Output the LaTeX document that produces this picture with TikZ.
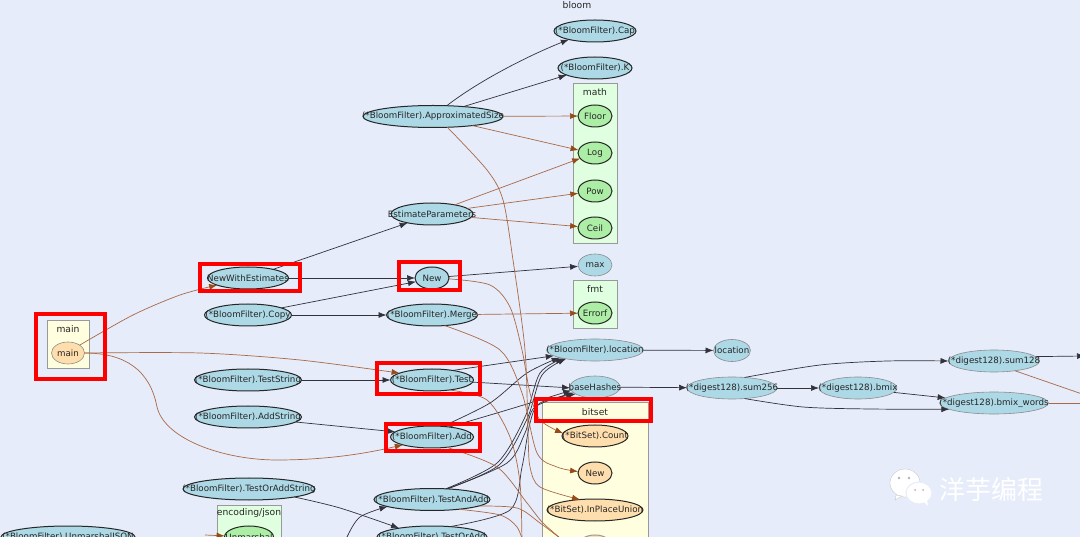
\documentclass[tikz,border=0pt]{standalone}
\usepackage{fontspec}
\setmainfont{DejaVu Sans}
\newfontfamily\cjkfont{Noto Sans CJK SC}
\usetikzlibrary{shapes.geometric,arrows.meta,positioning}
\definecolor{pagebg}{RGB}{230, 236, 250}
\definecolor{fnblue}{RGB}{173, 216, 230}
\definecolor{fngreen}{RGB}{172, 238, 165}
\definecolor{fnorange}{RGB}{255, 222, 173}
\definecolor{boxgreen}{RGB}{224, 255, 224}
\definecolor{boxyellow}{RGB}{255, 255, 224}
\definecolor{callblack}{RGB}{50, 50, 60}
\definecolor{callbrown}{RGB}{170, 105, 70}
\definecolor{tipbrown}{RGB}{150, 75, 25}

\begin{document}
\begin{tikzpicture}[
    x=1pt, y=-1pt,
    fn/.style={ellipse, draw=black!45, fill=fnblue, line width=0.6pt, inner sep=0pt, outer sep=0pt, minimum height=22pt, font=\fontsize{8.7}{10}\selectfont, text=black!85},
    fnb/.style={fn, draw=black!85, line width=1pt},
    fngr/.style={fnb, fill=fngreen},
    fnor/.style={fnb, fill=fnorange},
    pkg/.style={rectangle, draw=black!40, line width=1pt, inner sep=0pt, outer sep=0pt},
    title/.style={inner sep=0pt, font=\fontsize{9.2}{11}\selectfont, text=black!85},
    hilite/.style={draw=red, line width=4pt},
    call/.style={-{Latex[length=8pt,width=6pt]}, callblack, line width=0.7pt},
    ext/.style={-{Latex[length=8pt,width=6pt,color=tipbrown]}, callbrown, line width=0.7pt}
]
    \useasboundingbox (0,0) rectangle (1080,537);
    \clip (0,0) rectangle (1080,537);
    \fill[pagebg] (0,0) rectangle (1080,537);

    % package boxes
    \node[pkg, fill=boxgreen, minimum width=44pt, minimum height=160pt] (mathbox) at (595,164) {};
    \node[pkg, fill=boxgreen, minimum width=44pt, minimum height=48pt] (fmtbox) at (595,305) {};
    \node[pkg, fill=boxyellow, minimum width=42pt, minimum height=48pt] (mainbox) at (68,345) {};
    \node[pkg, fill=boxyellow, minimum width=106pt, minimum height=160pt] (bitsetbox) at (595,483) {};
    \node[pkg, fill=boxgreen, minimum width=64pt, minimum height=60pt] (jsonbox) at (249,535) {};

    \node[title] (bloomtitle) at (577,5) {bloom};
    \node[title] (mathtitle) at (595,92) {math};
    \node[title] (fmttitle) at (595,289) {fmt};
    \node[title] (maintitle) at (68,329) {main};
    \node[title] (bitsettitle) at (595,412) {bitset};
    \node[title] (jsontitle) at (249,513) {encoding/json};

    % right column
    \node[fnb, minimum width=82pt] (cap) at (595,31) {\clap{(*BloomFilter).Cap}};
    \node[fnb, minimum width=74pt, below=15pt of cap] (kfn) {\clap{(*BloomFilter).K}};
    \node[fngr, minimum width=34pt] (floor) at (595,116) {\clap{Floor}};
    \node[fngr, minimum width=34pt, below=15pt of floor] (log) {\clap{Log}};
    \node[fngr, minimum width=34pt, below=16pt of log] (pow) {\clap{Pow}};
    \node[fngr, minimum width=34pt, below=15pt of pow] (ceil) {\clap{Ceil}};
    \node[fn, minimum width=34pt, below=15pt of ceil] (max) {\clap{max}};
    \node[fngr, minimum width=34pt] (errorf) at (595,313) {\clap{Errorf}};
    \node[fn, minimum width=97pt, below=15pt of errorf] (location) {\clap{(*BloomFilter).location}};
    \node[fn, minimum width=50pt, below=15pt of location] (basehashes) {\clap{baseHashes}};
    \node[fnor, minimum width=66pt] (count) at (595,436) {\clap{(*BitSet).Count}};
    \node[fnor, minimum width=34pt, below=15pt of count] (bsnew) {\clap{New}};
    \node[fnor, minimum width=96pt, below=15pt of bsnew] (union) {\clap{(*BitSet).InPlaceUnion}};
    \node[fnor, draw=black!40, minimum width=34pt, below=14pt of union] (bsnext) {};

    % middle column
    \node[fnb, minimum width=140pt] (approx) at (433,116.5) {\clap{(*BloomFilter).ApproximatedSize}};
    \node[fnb, minimum width=82pt] (estimate) at (432,214) {\clap{EstimateParameters}};
    \node[fnb, minimum width=34pt, below=42pt of estimate] (newfn) {\clap{New}};
    \node[fnb, minimum width=91pt, below=15pt of newfn] (merge) {\clap{(*BloomFilter).Merge}};
    \node[fnb, minimum width=83pt, below=43pt of merge] (testfn) {\clap{(*BloomFilter).Test}};
    \node[fnb, minimum width=83pt, below=35pt of testfn] (addfn) {\clap{(*BloomFilter).Add}};
    \node[fnb, minimum width=116pt] (testadd) at (432,499.5) {\clap{(*BloomFilter).TestAndAdd}};
    \node[fnb, minimum width=110pt] (testoradd) at (432,537) {\clap{(*BloomFilter).TestOrAdd}};

    % left column
    \node[fnb, minimum width=81pt] (estimates) at (248,278) {\clap{NewWithEstimates}};
    \node[fnb, minimum width=87pt, below=15pt of estimates] (copyfn) {\clap{(*BloomFilter).Copy}};
    \node[fnb, minimum width=107pt] (teststr) at (248,380) {\clap{(*BloomFilter).TestString}};
    \node[fnb, minimum width=107pt, below=15pt of teststr] (addstr) {\clap{(*BloomFilter).AddString}};
    \node[fnb, minimum width=132pt] (testorstr) at (249,489) {\clap{(*BloomFilter).TestOrAddString}};
    \node[fnb, minimum width=134pt] (unmarshaljson) at (68,537) {\clap{(*BloomFilter).UnmarshalJSON}};
    \node[fngr, minimum width=49pt] (unmarshal) at (249,537) {\clap{Unmarshal}};
    \node[fn, fill=fnorange, minimum width=33pt] (mainfn) at (68,353) {\clap{main}};

    % digest nodes
    \node[fn, minimum width=37pt] (loc) at (732,350.5) {\clap{location}};
    \node[fn, minimum width=90pt] (sum256) at (732,388) {\clap{(*digest128).sum256}};
    \node[fn, minimum width=78pt, right=42pt of sum256] (bmix) {\clap{(*digest128).bmix}};
    \node[fn, minimum width=91pt] (sum128) at (994,361) {\clap{(*digest128).sum128}};
    \node[fn, minimum width=109pt] (bmixwords) at (994,403) {\clap{(*digest128).bmix\_words}};

    \coordinate (outa) at (1085,356);
    \coordinate (outb) at (1085,395);
    \coordinate (outc) at (1085,403);
    \coordinate (inleft) at (346,545);
    \coordinate (jsonin) at (205,535);

    % calls into math and fmt
    \draw[ext] (approx) -- (floor);
    \draw[ext] (approx.-13) -- (log.170);
    \draw[ext] (estimate.22) -- (log.200);
    \draw[ext] (estimate.9) -- (pow);
    \draw[ext] (estimate.-5) -- (ceil);
    \draw[ext] (merge) -- (errorf);

    % calls inside bloom
    \draw[call] (approx.38) .. controls (480,80) and (530,55) .. (cap.-162);
    \draw[call] (approx.18) -- (kfn.-166);
    \draw[call] (estimates.19) -- (estimate.-160);
    \draw[call] (estimates) -- (newfn);
    \draw[call] (copyfn.12) -- (newfn.193);
    \draw[call] (copyfn) -- (merge);
    \draw[call] (newfn.5) -- (max);
    \draw[call] (teststr) -- (testfn);
    \draw[call] (addstr.-6) -- (addfn.172);
    \draw[call] plot[smooth] coordinates {(testorstr.-10) (340,508) (testoradd.165)};
    \draw[call] plot[smooth] coordinates {(inleft) (347,537) (360,517) (testadd.-171)};
    \draw[call] (location) -- (loc);
    \draw[call] (basehashes) -- (sum256);
    \draw[call] (sum256) -- (bmix);
    \draw[call] plot[smooth] coordinates {(sum256.40) (820,365) (887,361) (sum128.180)};
    \draw[call] plot[smooth] coordinates {(sum256.-40) (803,407) (870,409) (bmixwords.-172)};
    \draw[call] (bmix.-7) -- (bmixwords.174);
    \draw[call] (sum128.6) -- (outa);

    % fan into location and baseHashes
    \draw[call] (testfn.25) -- (location.-172);
    \draw[call] plot[smooth] coordinates {(addfn.45) (490,403) (527,373) (location.-168)};
    \draw[call] plot[smooth] coordinates {(testadd.38) (497,463) (525,417) (540,373) (location.-165)};
    \draw[call] plot[smooth] coordinates {(testadd.36) (499,465) (527,419) (542,375) (location.-163)};
    \draw[call] (testfn.-3) -- (basehashes.-178);
    \draw[call] plot[smooth] coordinates {(addfn.30) (497,413) (540,400) (basehashes.-172)};
    \draw[call] plot[smooth] coordinates {(testadd.34) (507,463) (525,433) (535,407) (basehashes.-165)};
    \draw[call] plot[smooth] coordinates {(testoradd.30) (510,510) (522,467) (530,423) (540,403) (basehashes.-160)};

    % calls into bitset and off to the right
    \draw[ext] plot[smooth] coordinates {(mainfn.34) (133,315) (180,295) (estimates.-167)};
    \draw[ext] plot[smooth] coordinates {(mainfn.0) (200,353) (300,360) (testfn.168)};
    \draw[ext] (mainfn.0) .. controls (125,353) and (150,370) .. (157,407) .. controls (165,440) and (225,460) .. (277,460) .. controls (320,460) and (360,455) .. (addfn.-165);
    \draw[ext] plot[smooth] coordinates {(newfn.-3) (490,285) (510,307) (522,350) (530,393) (540,420) (count.175)};
    \draw[ext] plot[smooth] coordinates {(approx.-37) (487,170) (503,200) (513,260) (525,350) (528,433) (530,467) (540,487) (union.145)};
    \draw[ext] plot[smooth] coordinates {(merge.-40) (500,350) (522,393) (537,453) (557,467) (bsnew.175)};
    \draw[ext,-] plot[smooth] coordinates {(testfn.-30) (487,400) (510,437) (520,483) (522,545)};
    \draw[ext,-] plot[smooth] coordinates {(addfn.-35) (497,467) (527,503) (543,523) (565,542)};
    \draw[ext,-] plot[smooth] coordinates {(testadd.-8) (517,508) (540,523) (565,542)};
    \draw[ext,-] plot[smooth] coordinates {(testadd.-20) (500,515) (517,527) (524,545)};
    \draw[ext,-] (sum128.-25) -- (outb);
    \draw[ext,-] (bmixwords) -- (outc);
    \draw[ext] (jsonin) -- (unmarshal);

    % red marks
    \draw[hilite] (35.5,314.5) rectangle (104.5,379);
    \draw[hilite] (200,264) rectangle (300,291);
    \draw[hilite] (399,262) rectangle (460,290);
    \draw[hilite] (377,363) rectangle (480,394);
    \draw[hilite] (386,424) rectangle (480,451);
    \draw[hilite] (536,399) rectangle (651,421);

    % watermark
    \fill[white, draw=black!25, line width=0.3pt] (905,483) ellipse (15 and 14);
    \fill[white, draw=black!25, line width=0.3pt] (896,495) -- (895,500) -- (902,496) -- cycle;
    \fill[white, draw=pagebg, line width=1pt] (919,493) ellipse (13 and 11);
    \fill[white] (924,502) -- (928,506) -- (927,500) -- cycle;
    \fill[black!30] (899,478) circle (1.3) (909,478) circle (1.3) (915,490) circle (1) (923,490) circle (1);
    \node[inner sep=0pt, text=white, font=\cjkfont\fontsize{26}{30}\selectfont] (brand) at (991.5,490) {洋芋编程};
\end{tikzpicture}
\end{document}
